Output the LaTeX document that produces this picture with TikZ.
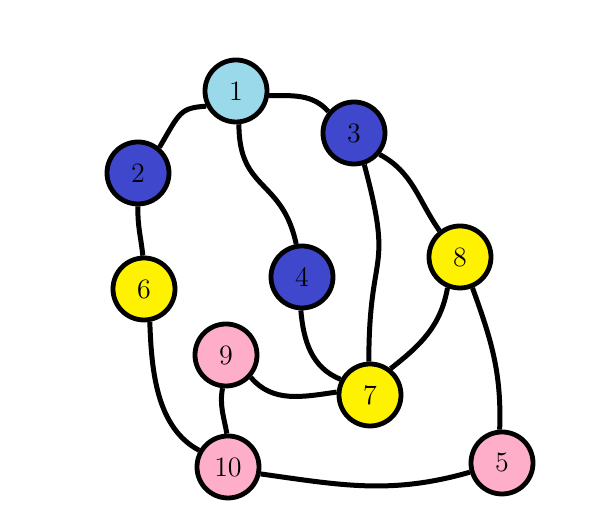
\documentclass[tikz,border=0pt]{standalone}
\usepackage{tikz}

\definecolor{paintsky}{RGB}{153,217,234}
\definecolor{paintblue}{RGB}{63,72,204}
\definecolor{paintyellow}{RGB}{255,242,0}
\definecolor{paintrose}{RGB}{255,174,201}

\tikzset{
	vertex/.style={draw=black, circle, line width=2.4pt, minimum size=31pt, inner sep=0pt, font=\fontsize{14}{16}\selectfont},
	link/.style={line width=2.5pt, black}
}

\begin{document}
\begin{tikzpicture}[x=0.5pt,y=0.5pt]

	%Canvas of the picture, same size as the reference
	\useasboundingbox (0,0) rectangle (602,512);

	%The vertices
	\node[vertex, fill=paintsky] (v1) at (236,421) {1};
	\node[vertex, fill=paintblue] (v2) at (138,339) {2};
	\node[vertex, fill=paintblue] (v3) at (354,379) {3};
	\node[vertex, fill=paintblue] (v4) at (302,235) {4};
	\node[vertex, fill=paintyellow] (v6) at (144,223) {6};
	\node[vertex, fill=paintyellow] (v8) at (460,255) {8};
	\node[vertex, fill=paintrose] (v9) at (226,157) {9};
	\node[vertex, fill=paintyellow] (v7) at (370,117) {7};
	\node[vertex, fill=paintrose] (v10) at (228,45) {10};
	\node[vertex, fill=paintrose] (v5) at (502,49) {5};

	%The edges
	\draw[link] (v1.207) .. controls (180,404) and (180,400) .. (v2.50);
	\draw[link] (v1.-8) to[out=0,in=132] (v3.140);
	\draw[link] (v1.-85) to[out=-90,in=102,looseness=1.3] (v4.100);
	\draw[link] (v2.-90) to[out=-92,in=96] (v6.92);
	\draw[link] (v3.-72) to[out=-75,in=90,looseness=1.5] (v7.92);
	\draw[link] (v3.-40) to[out=-28,in=125] (v8.128);
	\draw[link] (v4.-92) to[out=-85,in=158] (v7.152);
	\draw[link] (v8.-112) to[out=-100,in=38] (v7.52);
	\draw[link] (v8.-68) to[out=-70,in=88] (v5.94);
	\draw[link] (v6.-80) to[out=-88,in=152,looseness=0.9] (v10.150);
	\draw[link] (v9.-96) to[out=-100,in=100] (v10.92);
	\draw[link] (v9.-42) to[out=-50,in=188] (v7.175);
	\draw[link] (v10.-12) to[out=-8,in=196] (v5.196);

\end{tikzpicture}
\end{document}
